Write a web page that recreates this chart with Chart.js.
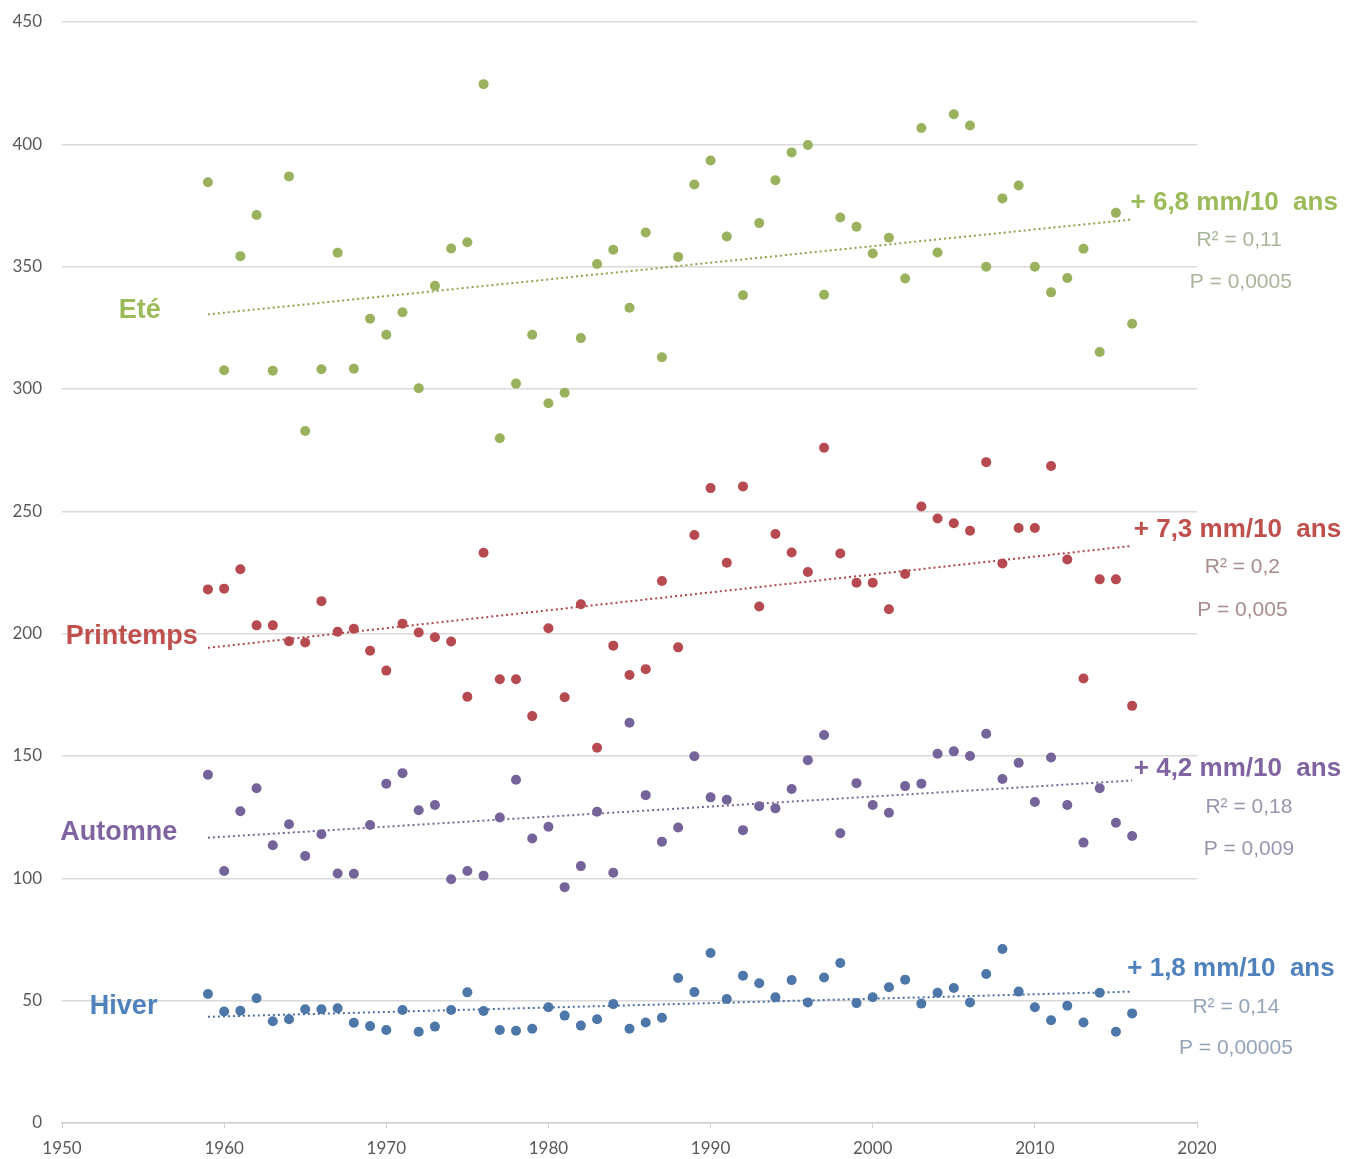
<!DOCTYPE html>
<html>
<head>
<meta charset="utf-8">
<script src="https://cdn.jsdelivr.net/npm/chart.js@4/dist/chart.umd.min.js"></script>
<style>
    html, body { margin: 0; padding: 0; background: #fff; }
    #wrap { width: 1351px; height: 1159px; position: relative; }
</style>
</head>
<body>
<div id="wrap"><canvas id="chart"></canvas></div>
<script>
const years = [1959, 1960, 1961, 1962, 1963, 1964, 1965, 1966, 1967, 1968,
    1969, 1970, 1971, 1972, 1973, 1974, 1975, 1976, 1977, 1978,
    1979, 1980, 1981, 1982, 1983, 1984, 1985, 1986, 1987, 1988,
    1989, 1990, 1991, 1992, 1993, 1994, 1995, 1996, 1997, 1998,
    1999, 2000, 2001, 2002, 2003, 2004, 2005, 2006, 2007, 2008,
    2009, 2010, 2011, 2012, 2013, 2014, 2015, 2016];

const ete = [384.5, 307.7, 354.3, 371.1, 307.5, 386.9, 282.8, 308.1, 355.7, 308.3,
    328.7, 322.2, 331.4, 300.3, 342.2, 357.4, 360.0, 424.6, 279.9, 302.2,
    322.2, 294.2, 298.5, 320.8, 351.1, 356.9, 333.2, 364.0, 313.0, 354.0,
    383.6, 393.4, 362.3, 338.3, 367.8, 385.3, 396.7, 399.7, 338.5, 370.1,
    366.3, 355.4, 361.8, 345.2, 406.7, 355.8, 412.3, 407.7, 350.0, 377.9,
    383.2, 350.0, 339.5, 345.4, 357.3, 315.1, 372.0, 326.7];

const printemps = [218.1, 218.4, 226.3, 203.4, 203.4, 196.9, 196.4, 213.3, 200.8, 202.0,
    193.0, 184.9, 204.1, 200.5, 198.5, 196.8, 174.2, 233.1, 181.4, 181.4,
    166.3, 202.2, 174.0, 212.0, 153.4, 195.1, 183.1, 185.5, 221.5, 194.4,
    240.3, 259.5, 229.0, 260.2, 211.1, 240.7, 233.2, 225.2, 276.0, 232.8,
    220.8, 220.8, 210.0, 224.4, 252.0, 247.1, 245.1, 242.1, 270.1, 228.7,
    243.2, 243.2, 268.5, 230.3, 181.7, 222.2, 222.2, 170.5];

const automne = [142.3, 103.0, 127.4, 136.8, 113.5, 122.1, 109.1, 118.0, 102.0, 101.9,
    121.8, 138.7, 143.0, 127.8, 130.0, 99.6, 103.0, 101.1, 124.9, 140.3,
    116.3, 121.1, 96.4, 105.0, 127.2, 102.3, 163.6, 134.0, 115.0, 120.8,
    149.9, 133.1, 132.1, 119.7, 129.5, 128.6, 136.5, 148.3, 158.6, 118.4,
    138.9, 130.0, 126.8, 137.7, 138.7, 150.9, 151.9, 150.0, 159.1, 140.6,
    147.2, 131.2, 149.4, 130.0, 114.6, 136.8, 122.7, 117.3];

const hiver = [52.7, 45.6, 45.9, 51.0, 41.6, 42.4, 46.5, 46.5, 46.9, 41.0,
    39.6, 38.0, 46.2, 37.3, 39.4, 46.2, 53.4, 45.8, 38.0, 37.7,
    38.5, 47.3, 43.9, 39.8, 42.4, 48.6, 38.5, 41.1, 43.0, 59.3,
    53.5, 69.5, 50.7, 60.2, 57.1, 51.4, 58.4, 49.3, 59.5, 65.4,
    49.0, 51.4, 55.5, 58.6, 48.8, 53.2, 55.2, 49.3, 60.9, 71.1,
    53.7, 47.3, 42.0, 47.9, 41.1, 53.2, 37.3, 44.8];

// trend lines (start 1959, end 2016)
const trendYears = [1959, 2016];
const trendEte = [330.5, 369.3];
const trendPrintemps = [194.2, 235.9];
const trendAutomne = [116.6, 140.0];
const trendHiver = [43.4, 53.7];

const seasonNames = ["Eté", "Printemps", "Automne", "Hiver"];
const slopeTexts = ["+ 6,8 mm/10  ans", "+ 7,3 mm/10  ans", "+ 4,2 mm/10  ans", "+ 1,8 mm/10  ans"];
const r2Texts = ["R² = 0,11", "R² = 0,2", "R² = 0,18", "R² = 0,14"];
const pTexts = ["P = 0,0005", "P = 0,005", "P = 0,009", "P = 0,00005"];

const dotColors = ["#9ab15e", "#b64a50", "#74649a", "#4e77a9"];
const lineColors = ["#8aa44a", "#b0454a", "#7a6698", "#4a6fa3"];
const labelColors = ["#9bbb59", "#c0504d", "#8064a2", "#4f81bd"];
const statColors = ["#a9b59a", "#a88c8c", "#9c94ae", "#94a3b9"];

// where the texts sit, in axis units (year, mm)
const namePos = [[1954.8, 332.2], [1954.3, 199.0], [1953.5, 118.9], [1953.8, 47.4]];
const slopePos = [[2015.9, 376.0], [2016.1, 242.3], [2016.1, 144.7], [2015.7, 62.9]];
const r2Pos = [[2022.6, 360.8], [2022.8, 227.2], [2023.2, 129.1], [2022.4, 47.4]];
const pPos = [[2022.7, 343.7], [2022.8, 209.6], [2023.2, 112.0], [2022.4, 30.6]];

const toPoints = (xs, ys) => xs.map((x, i) => ({x: x, y: ys[i]}));

const seriesValues = [ete, printemps, automne, hiver];
const trendValues = [trendEte, trendPrintemps, trendAutomne, trendHiver];

const datasets = [];
seriesValues.forEach((vals, i) => {
    datasets.push({
        type: "scatter",
        label: seasonNames[i],
        data: toPoints(years, vals),
        backgroundColor: dotColors[i],
        borderWidth: 0,
        pointRadius: 5,
        pointHoverRadius: 5,
        order: 2,
    });
    datasets.push({
        type: "line",
        label: seasonNames[i] + " tendance",
        data: toPoints(trendYears, trendValues[i]),
        borderColor: lineColors[i],
        borderWidth: 2,
        borderDash: [2, 3],
        pointRadius: 0,
        fill: false,
        order: 1,
    });
});

const textPlugin = {
    id: "seasonTexts",
    afterDatasetsDraw(chart) {
        const ctx = chart.ctx;
        const xs = chart.scales.x;
        const ys = chart.scales.y;
        ctx.save();
        ctx.textBaseline = "middle";
        for (let i = 0; i < 4; i++) {
            ctx.font = "bold 27px 'Liberation Sans', Arial, sans-serif";
            ctx.fillStyle = labelColors[i];
            ctx.textAlign = "center";
            ctx.fillText(seasonNames[i], xs.getPixelForValue(namePos[i][0]), ys.getPixelForValue(namePos[i][1]));

            ctx.font = "bold 26px 'Liberation Sans', Arial, sans-serif";
            ctx.textAlign = "left";
            ctx.fillText(slopeTexts[i], xs.getPixelForValue(slopePos[i][0]), ys.getPixelForValue(slopePos[i][1]));

            ctx.font = "21px 'Liberation Sans', Arial, sans-serif";
            ctx.fillStyle = statColors[i];
            ctx.textAlign = "center";
            ctx.fillText(r2Texts[i], xs.getPixelForValue(r2Pos[i][0]), ys.getPixelForValue(r2Pos[i][1]));
            ctx.fillText(pTexts[i], xs.getPixelForValue(pPos[i][0]), ys.getPixelForValue(pPos[i][1]));
        }
        ctx.restore();
    }
};

const canvas = document.getElementById("chart");
canvas.width = 1351;
canvas.height = 1159;

new Chart(canvas.getContext("2d"), {
    data: { datasets: datasets },
    options: {
        responsive: false,
        animation: false,
        layout: { padding: { top: 22, right: 154, left: 0, bottom: 0 } },
        plugins: {
            legend: { display: false },
            tooltip: { enabled: false },
        },
        scales: {
            x: {
                type: "linear",
                min: 1950,
                max: 2020,
                ticks: {
                    stepSize: 10,
                    color: "#595959",
                    font: { family: "Lato, 'Open Sans', sans-serif", size: 17 },
                    padding: 10,
                    callback: (v) => String(v),
                },
                grid: {
                    drawOnChartArea: false,
                    drawTicks: true,
                    tickLength: 5,
                    color: "#d0d0d0",
                },
                border: { color: "#d0d0d0", width: 1.5 },
                afterFit: (scale) => { scale.height = 36; },
            },
            y: {
                min: 0,
                max: 450,
                ticks: {
                    stepSize: 50,
                    color: "#595959",
                    font: { family: "Lato, 'Open Sans', sans-serif", size: 17 },
                    padding: 0,
                },
                grid: {
                    color: "#d9d9d9",
                    lineWidth: 1.5,
                    drawTicks: true,
                    tickLength: 20,
                    tickColor: "rgba(0,0,0,0)",
                },
                border: { display: false },
                afterFit: (scale) => { scale.width = 62; },
            },
        },
    },
    plugins: [textPlugin],
});
</script>
</body>
</html>
